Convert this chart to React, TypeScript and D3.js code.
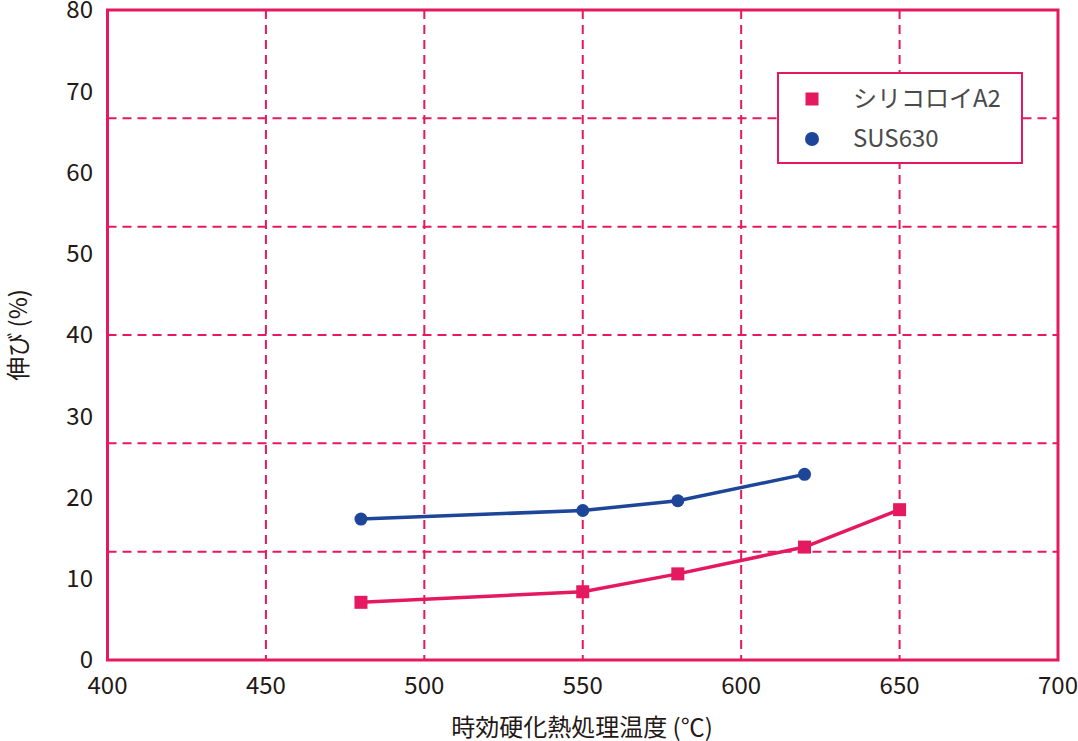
import React, { useEffect, useRef } from 'react';
import * as d3 from 'd3';

const temps = [480, 550, 580, 620, 650];
const siliconA2 = [7.1, 8.4, 10.6, 13.9, 18.5];
const sus630Temps = [480, 550, 580, 620];
const sus630 = [17.35, 18.4, 19.6, 22.85];
const xTicks = [400, 450, 500, 550, 600, 650, 700];
const yTicks = [0, 10, 20, 30, 40, 50, 60, 70, 80];
const hGrid = [1, 2, 3, 4, 5].map((i) => (80 / 6) * i);
const legendNames = ['シリコロイA2', 'SUS630'];

const PINK = '#e4195f';
const BLUE = '#1d4598';
const FONT = '"Noto Sans CJK JP", "Noto Sans", sans-serif';

const App: React.FC = () => {
  const ref = useRef<SVGSVGElement>(null);

  useEffect(() => {
    const { current: dom } = ref;
    if (!dom) {
      return;
    }
    const svg = d3.select(dom);
    svg.selectAll('*').remove();

    const x = d3.scaleLinear().domain([400, 700]).range([107.5, 1058]);
    const y = d3.scaleLinear().domain([0, 80]).range([660, 10]);

    // グリッド
    const grid = svg.append('g').attr('stroke', PINK).attr('stroke-width', 2).attr('stroke-dasharray', '9,6');
    grid
      .selectAll('line.v')
      .data(xTicks.slice(1, -1))
      .join('line')
      .attr('x1', (d) => x(d))
      .attr('x2', (d) => x(d))
      .attr('y1', y(80))
      .attr('y2', y(0));
    grid
      .selectAll('line.h')
      .data(hGrid)
      .join('line')
      .attr('x1', x(400))
      .attr('x2', x(700))
      .attr('y1', (d) => y(d))
      .attr('y2', (d) => y(d));

    // 枠
    svg
      .append('rect')
      .attr('x', x(400))
      .attr('y', y(80))
      .attr('width', x(700) - x(400))
      .attr('height', y(0) - y(80))
      .attr('fill', 'none')
      .attr('stroke', PINK)
      .attr('stroke-width', 3);

    // 目盛りラベル
    svg
      .append('g')
      .selectAll('text')
      .data(yTicks)
      .join('text')
      .attr('x', 93)
      .attr('y', (d) => y(d))
      .attr('dy', '0.35em')
      .attr('text-anchor', 'end')
      .attr('font-size', 24)
      .attr('fill', '#231815')
      .text((d) => d);
    svg
      .append('g')
      .selectAll('text')
      .data(xTicks)
      .join('text')
      .attr('x', (d) => x(d))
      .attr('y', 694)
      .attr('text-anchor', 'middle')
      .attr('font-size', 24)
      .attr('fill', '#231815')
      .text((d) => d);

    // 軸タイトル
    svg
      .append('text')
      .attr('transform', 'translate(27,335) rotate(-90)')
      .attr('text-anchor', 'middle')
      .attr('font-size', 24)
      .attr('fill', '#231815')
      .text('伸び (%)');
    svg
      .append('text')
      .attr('x', 582)
      .attr('y', 736)
      .attr('text-anchor', 'middle')
      .attr('font-size', 24)
      .attr('fill', '#231815')
      .text('時効硬化熱処理温度 (℃)');

    const line = d3
      .line<[number, number]>()
      .x((d) => x(d[0]))
      .y((d) => y(d[1]));

    const pinkData: [number, number][] = temps.map((t, i) => [t, siliconA2[i]]);
    const blueData: [number, number][] = sus630Temps.map((t, i) => [t, sus630[i]]);

    svg
      .append('path')
      .datum(blueData)
      .attr('d', line)
      .attr('fill', 'none')
      .attr('stroke', BLUE)
      .attr('stroke-width', 3.5);
    svg
      .append('g')
      .selectAll('circle')
      .data(blueData)
      .join('circle')
      .attr('cx', (d) => x(d[0]))
      .attr('cy', (d) => y(d[1]))
      .attr('r', 6.5)
      .attr('fill', BLUE);

    svg
      .append('path')
      .datum(pinkData)
      .attr('d', line)
      .attr('fill', 'none')
      .attr('stroke', PINK)
      .attr('stroke-width', 3.5);
    svg
      .append('g')
      .selectAll('rect')
      .data(pinkData)
      .join('rect')
      .attr('x', (d) => x(d[0]) - 6.5)
      .attr('y', (d) => y(d[1]) - 6.5)
      .attr('width', 13)
      .attr('height', 13)
      .attr('fill', PINK);

    // 凡例
    const legend = svg.append('g');
    legend
      .append('rect')
      .attr('x', 778)
      .attr('y', 73)
      .attr('width', 244)
      .attr('height', 90)
      .attr('fill', '#fff')
      .attr('stroke', PINK)
      .attr('stroke-width', 2);
    legend
      .append('rect')
      .attr('x', 805.5)
      .attr('y', 92.5)
      .attr('width', 13)
      .attr('height', 13)
      .attr('fill', PINK);
    legend.append('circle').attr('cx', 812).attr('cy', 139).attr('r', 7).attr('fill', BLUE);
    legend
      .selectAll('text')
      .data(legendNames)
      .join('text')
      .attr('x', 853)
      .attr('y', (d, i) => 99 + i * 40)
      .attr('dy', '0.35em')
      .attr('font-size', 24)
      .attr('fill', '#4a4a4a')
      .text((d) => d);
  }, []);

  return (
    <svg
      ref={ref}
      width={1078}
      height={741}
      style={{ position: 'absolute', left: 0, top: 0, fontFamily: FONT, background: '#fff' }}
    />
  );
};

export default App;
